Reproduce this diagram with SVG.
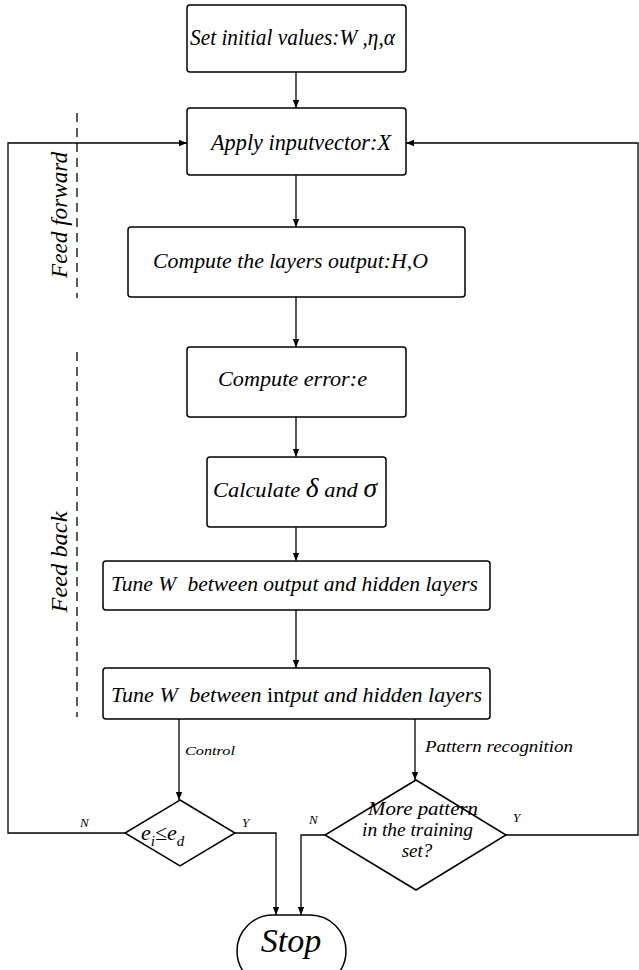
<svg xmlns="http://www.w3.org/2000/svg" width="639" height="970" viewBox="0 0 639 970">
<style>
.box{fill:#fff;stroke:#000;stroke-width:1.5}
.ln{fill:none;stroke:#000;stroke-width:1.3}
.dash{fill:none;stroke:#000;stroke-width:1.3;stroke-dasharray:9,6}
text{font-family:"Liberation Serif","Times New Roman",serif;font-style:italic;fill:#000}
.t{font-size:22px}
.s{font-size:13px}
</style>
<defs>
<marker id="ah" viewBox="0 0 10 10" refX="10" refY="5" markerWidth="8" markerHeight="8" markerUnits="userSpaceOnUse" orient="auto">
<path d="M0,1 L10,5 L0,9 Z" fill="#000"/>
</marker>
</defs>
<rect width="639" height="970" fill="#fff"/>
<g id="connectors">
<line class="ln" x1="296" y1="72" x2="296" y2="108" marker-end="url(#ah)"/>
<line class="ln" x1="296" y1="175" x2="296" y2="227" marker-end="url(#ah)"/>
<line class="ln" x1="296" y1="297" x2="296" y2="347" marker-end="url(#ah)"/>
<line class="ln" x1="296" y1="417" x2="296" y2="457" marker-end="url(#ah)"/>
<line class="ln" x1="296" y1="527" x2="296" y2="561" marker-end="url(#ah)"/>
<line class="ln" x1="296" y1="610" x2="296" y2="668" marker-end="url(#ah)"/>
<line class="ln" x1="179" y1="719" x2="179" y2="800" marker-end="url(#ah)"/>
<line class="ln" x1="415" y1="719" x2="415" y2="780" marker-end="url(#ah)"/>
<polyline class="ln" points="125,833 8,833 8,143 187,143" marker-end="url(#ah)"/>
<polyline class="ln" points="506,835 638,835 638,143 406,143" marker-end="url(#ah)"/>
<polyline class="ln" points="235,833 276,833 276,915" marker-end="url(#ah)"/>
<polyline class="ln" points="325,835 301,835 301,915" marker-end="url(#ah)"/>
<line class="dash" x1="77" y1="113" x2="77" y2="298"/>
<line class="dash" x1="77" y1="352" x2="77" y2="717"/>
<text class="s" x="185" y="755" textLength="50" lengthAdjust="spacingAndGlyphs">Control</text>
<text x="425" y="752" font-size="16" textLength="148" lengthAdjust="spacingAndGlyphs">Pattern recognition</text>
<text class="s" x="80" y="827" font-size="12">N</text>
<text class="s" x="242" y="827" font-size="12">Y</text>
<text class="s" x="309" y="824" font-size="12">N</text>
<text class="s" x="513" y="822" font-size="12">Y</text>
<text transform="translate(67,215) rotate(-90)" text-anchor="middle" font-size="23" textLength="126" lengthAdjust="spacingAndGlyphs">Feed forward</text>
<text transform="translate(67,562) rotate(-90)" text-anchor="middle" font-size="23" textLength="101" lengthAdjust="spacingAndGlyphs">Feed back</text>
</g>
<g id="n1">
<rect class="box" x="187" y="5" width="219" height="67" rx="3"/>
<text x="190" y="45" font-size="23" textLength="205" lengthAdjust="spacingAndGlyphs">Set initial values:W ,η,α</text>
</g>
<g id="n2">
<rect class="box" x="187" y="108" width="219" height="67" rx="3"/>
<text x="211" y="150" font-size="23" textLength="180" lengthAdjust="spacingAndGlyphs">Apply inputvector:X</text>
</g>
<g id="n3">
<rect class="box" x="128" y="227" width="337" height="70" rx="3"/>
<text class="t" x="153" y="268" textLength="275" lengthAdjust="spacingAndGlyphs">Compute the layers output:H,O</text>
</g>
<g id="n4">
<rect class="box" x="187" y="347" width="219" height="70" rx="3"/>
<text class="t" x="218" y="386" textLength="149" lengthAdjust="spacingAndGlyphs">Compute error:e</text>
</g>
<g id="n5">
<rect class="box" x="207" y="457" width="179" height="70" rx="3"/>
<text x="213" y="497" font-size="22" textLength="164" lengthAdjust="spacingAndGlyphs">Calculate <tspan font-size="27">δ</tspan> and <tspan font-size="27">σ</tspan></text>
</g>
<g id="n6">
<rect class="box" x="103" y="561" width="387" height="49" rx="3"/>
<text class="t" x="111" y="591" textLength="367" lengthAdjust="spacingAndGlyphs">Tune W <tspan dx="6">between output and hidden layers</tspan></text>
</g>
<g id="n7">
<rect class="box" x="103" y="668" width="387" height="51" rx="3"/>
<text class="t" x="111" y="702" textLength="371" lengthAdjust="spacingAndGlyphs">Tune W <tspan dx="6">between </tspan><tspan font-style="normal">in</tspan>tput and hidden layers</text>
</g>
<g id="d1">
<polygon class="box" points="180,800 235,833 180,866 125,833"/>
<text x="141" y="840" font-size="22">e<tspan dy="6" font-size="15">i</tspan><tspan dy="-6">≤e</tspan><tspan dy="6" font-size="15">d</tspan></text>
</g>
<g id="d2">
<polygon class="box" points="416,780 506,835 416,890 325,835"/>
<text x="368" y="815" font-size="19" textLength="110" lengthAdjust="spacingAndGlyphs">More pattern</text>
<text x="362" y="836" font-size="19" textLength="111" lengthAdjust="spacingAndGlyphs">in the training</text>
<text x="417" y="857" font-size="19" text-anchor="middle">set?</text>
</g>
<g id="stop">
<rect class="box" x="237" y="915" width="109" height="72" rx="36"/>
<text x="291" y="952" font-size="34" text-anchor="middle">Stop</text>
</g>
</svg>
